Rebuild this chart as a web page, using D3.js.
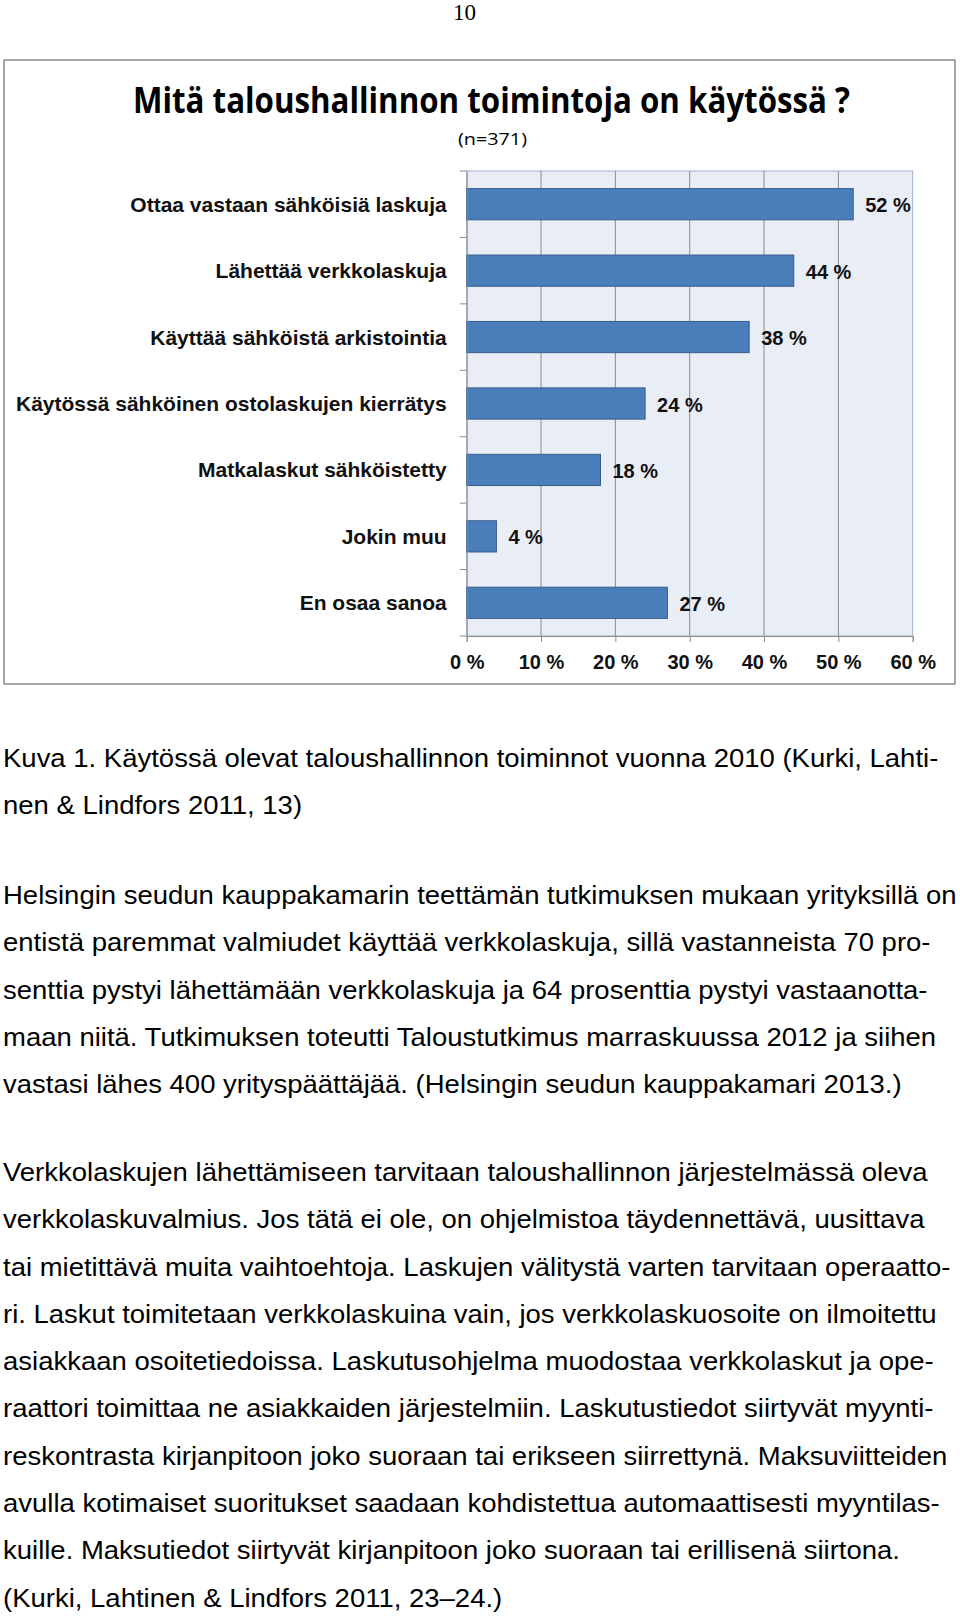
<!DOCTYPE html>
<html>
<head>
<meta charset="utf-8">
<script src="https://cdn.jsdelivr.net/npm/d3@7"></script>
<style>
body { margin: 0; background: #fff; }
svg { display: block; }
</style>
</head>
<body>
<svg id="page" width="960" height="1616"></svg>
<script>
// chart values
var categories = [
    "Ottaa vastaan sähköisiä laskuja",
    "Lähettää verkkolaskuja",
    "Käyttää sähköistä arkistointia",
    "Käytössä sähköinen ostolaskujen kierrätys",
    "Matkalaskut sähköistetty",
    "Jokin muu",
    "En osaa sanoa"
];
var values = [52, 44, 38, 24, 18, 4, 27];
var xTickValues = [0, 10, 20, 30, 40, 50, 60];
var chartTitle = "Mitä taloushallinnon toimintoja on käytössä ?";
var chartSubtitle = "(n=371)";

// page text around the figure
var pageNumber = "10";
var captionLines = [
    "Kuva 1. Käytössä olevat taloushallinnon toiminnot vuonna 2010 (Kurki, Lahti-",
    "nen & Lindfors 2011, 13)"
];
var para1Lines = [
    "Helsingin seudun kauppakamarin teettämän tutkimuksen mukaan yrityksillä on",
    "entistä paremmat valmiudet käyttää verkkolaskuja, sillä vastanneista 70 pro-",
    "senttia pystyi lähettämään verkkolaskuja ja 64 prosenttia pystyi vastaanotta-",
    "maan niitä. Tutkimuksen toteutti Taloustutkimus marraskuussa 2012 ja siihen",
    "vastasi lähes 400 yrityspäättäjää. (Helsingin seudun kauppakamari 2013.)"
];
var para2Lines = [
    "Verkkolaskujen lähettämiseen tarvitaan taloushallinnon järjestelmässä oleva",
    "verkkolaskuvalmius. Jos tätä ei ole, on ohjelmistoa täydennettävä, uusittava",
    "tai mietittävä muita vaihtoehtoja. Laskujen välitystä varten tarvitaan operaatto-",
    "ri. Laskut toimitetaan verkkolaskuina vain, jos verkkolaskuosoite on ilmoitettu",
    "asiakkaan osoitetiedoissa. Laskutusohjelma muodostaa verkkolaskut ja ope-",
    "raattori toimittaa ne asiakkaiden järjestelmiin. Laskutustiedot siirtyvät myynti-",
    "reskontrasta kirjanpitoon joko suoraan tai erikseen siirrettynä. Maksuviitteiden",
    "avulla kotimaiset suoritukset saadaan kohdistettua automaattisesti myyntilas-",
    "kuille. Maksutiedot siirtyvät kirjanpitoon joko suoraan tai erillisenä siirtona.",
    "(Kurki, Lahtinen & Lindfors 2011, 23–24.)"
];

var svg = d3.select("#page");
var sans = "'Liberation Sans', Arial, sans-serif";
var plot = {left: 466.7, right: 912.7, top: 171, bottom: 636};

var x = d3.scaleLinear()
    .domain([0, 60])
    .range([plot.left, plot.right]);

var y = d3.scaleBand()
    .domain(categories)
    .range([plot.top, plot.bottom])
    .paddingInner(0.53)
    .paddingOuter(0.265);

svg.append("text")
    .attr("x", 464.5)
    .attr("y", 20)
    .attr("text-anchor", "middle")
    .style("font-family", "'Liberation Serif', 'Times New Roman', serif")
    .style("font-size", "23px")
    .text(pageNumber);

/**
 * The figure: outer frame, titles, plot area with bars.
 */
svg.append("rect")
    .attr("x", 4)
    .attr("y", 60)
    .attr("width", 951)
    .attr("height", 624)
    .style("fill", "#fff")
    .style("stroke", "#8a8a8a")
    .style("stroke-width", 1.5);

svg.append("text")
    .attr("x", 491.5)
    .attr("y", 113)
    .attr("text-anchor", "middle")
    .attr("textLength", 717)
    .attr("lengthAdjust", "spacingAndGlyphs")
    .style("font-family", "'Open Sans', sans-serif")
    .style("font-weight", "bold")
    .style("font-size", "35px")
    .text(chartTitle);

svg.append("text")
    .attr("x", 492.5)
    .attr("y", 145)
    .attr("text-anchor", "middle")
    .attr("textLength", 69)
    .attr("lengthAdjust", "spacingAndGlyphs")
    .style("font-family", "'Open Sans', sans-serif")
    .style("font-size", "17px")
    .text(chartSubtitle);

svg.append("rect")
    .attr("x", plot.left)
    .attr("y", plot.top)
    .attr("width", plot.right - plot.left)
    .attr("height", plot.bottom - plot.top)
    .style("fill", "#e9edf5")
    .style("stroke", "#9fb2cc")
    .style("stroke-width", 1);

//vertical gridlines, the 0 line is the axis itself
svg.append("g").selectAll("line")
    .data(xTickValues.filter(function (d) { return d > 0 && d < 60; }))
    .enter().append("line")
    .attr("x1", function (d) { return x(d); })
    .attr("x2", function (d) { return x(d); })
    .attr("y1", plot.top)
    .attr("y2", plot.bottom)
    .style("stroke", "#8c8c8c")
    .style("stroke-width", 1);

svg.append("g").selectAll("rect")
    .data(values)
    .enter().append("rect")
    .attr("x", x(0))
    .attr("y", function (d, i) { return y(categories[i]); })
    .attr("width", function (d) { return x(d) - x(0); })
    .attr("height", y.bandwidth())
    .style("fill", "#4a7ebb")
    .style("stroke", "#385d8a")
    .style("stroke-width", 1);

svg.append("g").selectAll("text")
    .data(values)
    .enter().append("text")
    .attr("x", function (d) { return x(d) + 12; })
    .attr("y", function (d, i) { return y(categories[i]) + y.bandwidth() / 2 + 8; })
    .style("font-family", sans)
    .style("font-weight", "bold")
    .style("font-size", "20px")
    .style("fill", "#111")
    .text(function (d) { return d + " %"; });

// x axis with percent labels
var xAxis = svg.append("g")
    .attr("transform", "translate(0," + plot.bottom + ")")
    .call(d3.axisBottom(x)
        .tickValues(xTickValues)
        .tickSize(6)
        .tickPadding(12)
        .tickFormat(function (d) { return d + " %"; }));
xAxis.select(".domain").style("stroke", "#8c8c8c");
xAxis.selectAll(".tick line").style("stroke", "#8c8c8c");
xAxis.selectAll(".tick text")
    .attr("dy", null)
    .attr("y", 33)
    .style("font-family", sans)
    .style("font-weight", "bold")
    .style("font-size", "20px")
    .style("fill", "#111");

// y axis: labels at band centres, tick marks on band edges
var yAxis = svg.append("g")
    .attr("transform", "translate(" + plot.left + ",0)")
    .call(d3.axisLeft(y).tickSize(0).tickPadding(20));
yAxis.select(".domain").style("stroke", "#8c8c8c");
yAxis.selectAll(".tick text")
    .attr("dy", "0.36em")
    .style("font-family", sans)
    .style("font-weight", "bold")
    .style("font-size", "21px")
    .style("fill", "#111");

var edges = categories.map(function (c) { return y(c) - y.step() * y.paddingInner() / 2; });
edges.push(plot.bottom);
svg.append("g").selectAll("line")
    .data(edges)
    .enter().append("line")
    .attr("x1", plot.left - 7)
    .attr("x2", plot.left)
    .attr("y1", function (d) { return d; })
    .attr("y2", function (d) { return d; })
    .style("stroke", "#8c8c8c")
    .style("stroke-width", 1);

/**
 * Body text of the page. Lines are set in a sans face and squeezed
 * horizontally so the widest line fills the text column.
 */
var bodySize = 26;
var lineGap = 47.3;
var probe = svg.append("text")
    .style("font-family", sans)
    .style("font-size", bodySize + "px")
    .text(para1Lines[0]);
var sx = 954 / probe.node().getComputedTextLength();
probe.remove();

function drawLines(lines, firstBaseline) {
    svg.append("g")
    .attr("transform", "translate(3,0) scale(" + sx + ",1)")
    .selectAll("text")
    .data(lines)
    .enter().append("text")
    .attr("x", 0)
    .attr("y", function (d, i) { return firstBaseline + i * lineGap; })
    .style("font-family", sans)
    .style("font-size", bodySize + "px")
    .style("fill", "#000")
    .text(function (d) { return d; });
}

drawLines(captionLines, 767);
drawLines(para1Lines, 904);
drawLines(para2Lines, 1181);
</script>
</body>
</html>
